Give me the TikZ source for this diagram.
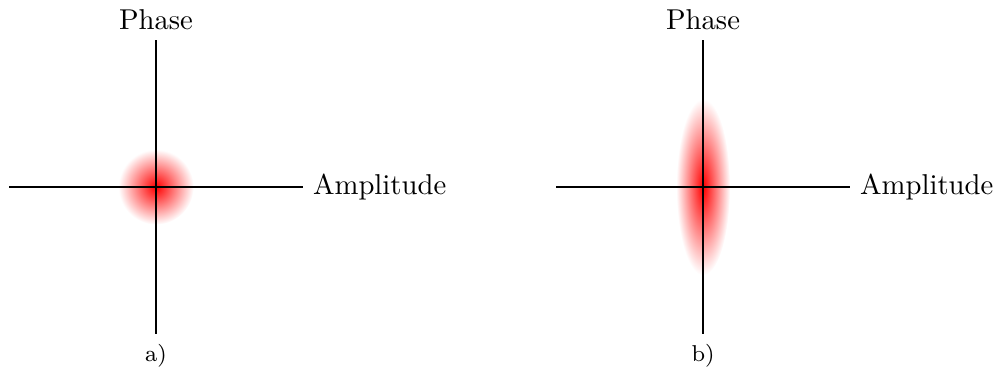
\documentclass[tikz,border=0pt]{standalone}
\begin{document}
\begin{tikzpicture}[
  axisline/.style={line width=0.4pt, black},
  blob/.style={inner color=red, outer color=white}
]
\useasboundingbox (-54.36pt,-65.16pt) rectangle (296.2pt,65.16pt);
% a)
\coordinate (ca) at (0,0);
\shade[blob] (ca) circle (0.46cm);
\coordinate (aL) at (-1.8,0);
\coordinate (aR) at (1.8,0);
\coordinate (aT) at (0,1.8);
\coordinate (aB) at (0,-1.8);
\draw[axisline] (aL) -- (aR);
\draw[axisline] (aB) -- (aT);
\node[anchor=south] (aphase) at (aT) {Phase};
\node[anchor=west] (aamp) at (aR) {Amplitude};
\node[anchor=north, font=\footnotesize] (alab) at (aB) {a)};
% b)
\coordinate (cb) at (6.7,0);
\shade[blob] (cb) ellipse (0.33cm and 1.08cm);
\coordinate (bL) at (4.9,0);
\coordinate (bR) at (8.5,0);
\coordinate (bT) at (6.7,1.8);
\coordinate (bB) at (6.7,-1.8);
\draw[axisline] (bL) -- (bR);
\draw[axisline] (bB) -- (bT);
\node[anchor=south] (bphase) at (bT) {Phase};
\node[anchor=west] (bamp) at (bR) {Amplitude};
\node[anchor=north, font=\footnotesize] (blab) at (bB) {b)};
\end{tikzpicture}
\end{document}
